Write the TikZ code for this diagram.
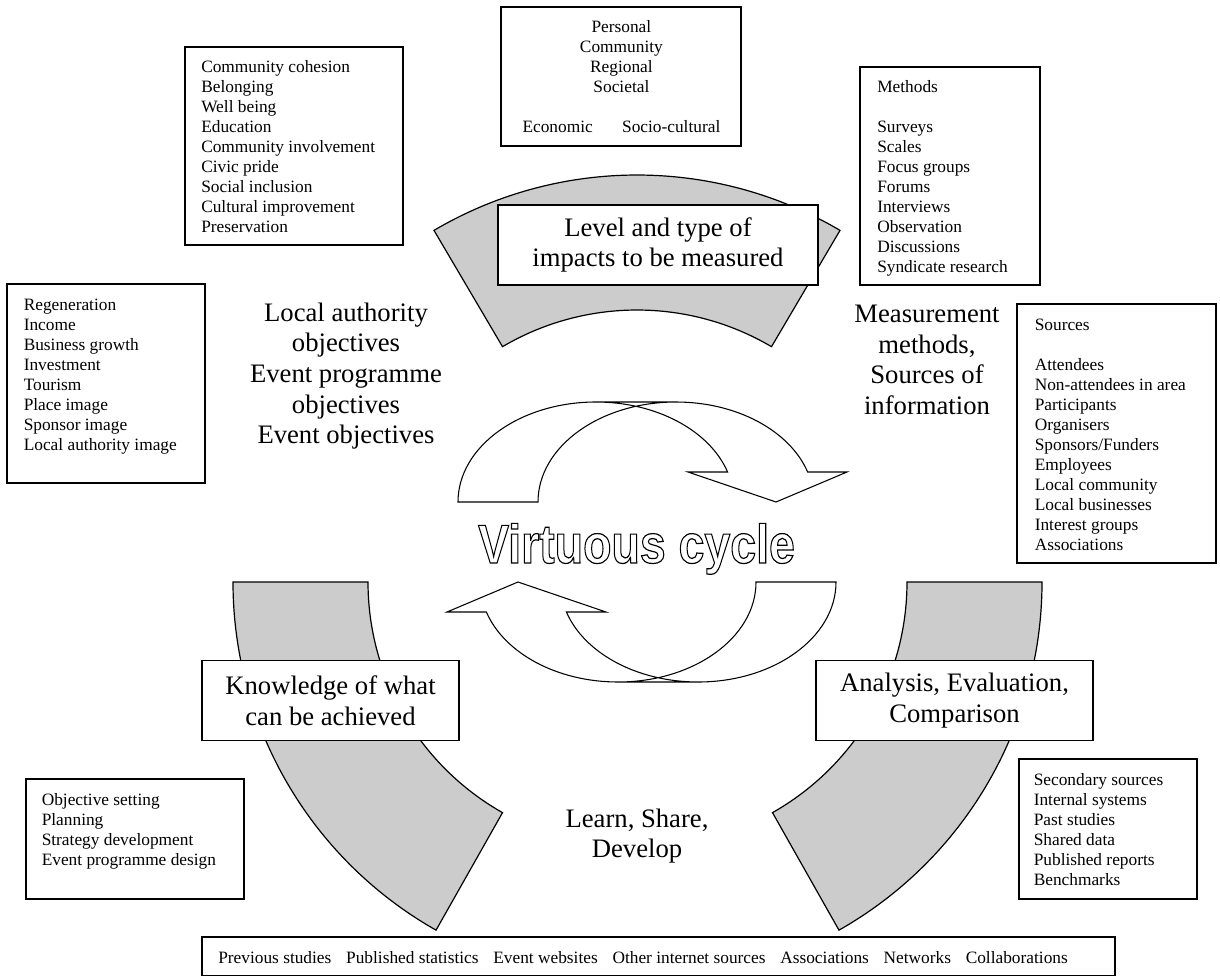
\documentclass[tikz,border=0pt]{standalone}
\usepackage{fontspec}
\setmainfont{Liberation Serif}
\newfontfamily\cyclefont{Liberation Sans}
\usepackage{graphicx}
\definecolor{arcgray}{gray}{0.8}
% stroked (hollow) letters
\newcommand\hollow[1]{\special{pdf:literal 1 Tr 0.9 w}#1\special{pdf:literal 0 Tr}}
\tikzset{
	listbox/.style={draw, line width=1pt},
	listtext/.style={anchor=north west, inner sep=0pt, align=left, font=\fontsize{13pt}{15pt}\selectfont},
	bigtext/.style={align=center, inner sep=0pt, font=\fontsize{20pt}{23pt}\selectfont},
	stagebox/.style={draw, fill=white, line width=1pt, align=center, minimum height=60pt, font=\fontsize{20pt}{23pt}\selectfont},
	stagearc/.style={fill=arcgray, draw=black, line width=0.9pt},
	cycle arrow/.pic={
		\draw[line width=0.8pt] (-109,-40) -- (-189,-40)
			arc[start angle=180, end angle=270, x radius=138, y radius=100] -- (29,-140)
			arc[start angle=270, end angle=342.54, x radius=138, y radius=100]
			-- (200,-70) -- (129,-40) -- (41,-70) -- (80.6,-70)
			arc[start angle=342.54, end angle=270, x radius=138, y radius=100] -- (29,-140)
			arc[start angle=270, end angle=180, x radius=138, y radius=100] -- cycle;
	}
}
\begin{document}
\begin{tikzpicture}[x=0.75pt, y=-0.75pt]
	\useasboundingbox (0,0) rectangle (1220,977);
	% the three stages
	\filldraw[stagearc] (637,575) ++(239.5:400) arc[start angle=239.5, end angle=300.5, radius=400] -- ++(300.5:-135) arc[start angle=300.5, end angle=239.5, radius=265] -- cycle;
	\filldraw[stagearc] (633,582) ++(180:400) arc[start angle=180, end angle=119.5, radius=400] -- ++(119.5:-135) arc[start angle=119.5, end angle=180, radius=265] -- cycle;
	\filldraw[stagearc] (642,582) ++(0:400) arc[start angle=0, end angle=60.5, radius=400] -- ++(60.5:-135) arc[start angle=60.5, end angle=0, radius=265] -- cycle;
	\node[stagebox, minimum width=240pt] (level) at (658,245) {Level and type of\\impacts to be measured};
	\node[stagebox, minimum width=192.75pt] (knowledge) at (330.5,700.5) {Knowledge of what\\can be achieved};
	\node[stagebox, minimum width=207.75pt] (analysis) at (954.5,700.5) {Analysis, Evaluation,\\Comparison};
	% cycle in the middle
	\pic (turnA) at (647,542) {cycle arrow};
	\pic[rotate=180] (turnB) at (647,542) {cycle arrow};
	\node[anchor=base, inner sep=0pt, font=\cyclefont\bfseries\fontsize{41pt}{41pt}\selectfont] (virtuous) at (636.5,563) {\scalebox{0.85}[1]{\hollow{Virtuous cycle}}};
	% free labels
	\node[bigtext] (objectives) at (346,376) {Local authority\\objectives\\Event programme\\objectives\\Event objectives};
	\node[bigtext] (measurement) at (927,360) {Measurement\\methods,\\Sources of\\information};
	\node[bigtext] (learn) at (637,836) {Learn, Share,\\Develop};
	% lists
	\draw[listbox] (185,47) rectangle (403,245);
	\node[listtext] (social) at (201,60.5) {Community cohesion\\Belonging\\Well being\\Education\\Community involvement\\Civic pride\\Social inclusion\\Cultural improvement\\Preservation};
	\draw[listbox] (7,284) rectangle (205,483);
	\node[listtext] (economic) at (23.5,298.3) {Regeneration\\Income\\Business growth\\Investment\\Tourism\\Place image\\Sponsor image\\Local authority image};
	\draw[listbox] (501,7) rectangle (741,146);
	\node[listtext, anchor=north, align=center] (levels) at (621.4,20.3) {Personal\\Community\\Regional\\Societal\\[15pt]Economic\hspace{22pt}Socio-cultural};
	\draw[listbox] (860,67) rectangle (1040,285);
	\node[listtext] (methods) at (877,80.5) {Methods\\[15pt]Surveys\\Scales\\Focus groups\\Forums\\Interviews\\Observation\\Discussions\\Syndicate research};
	\draw[listbox] (1017,304) rectangle (1216,563);
	\node[listtext] (sources) at (1034.5,318.8) {Sources\\[15pt]Attendees\\Non-attendees in area\\Participants\\Organisers\\Sponsors/Funders\\Employees\\Local community\\Local businesses\\Interest groups\\Associations};
	\draw[listbox] (26,779) rectangle (244,899);
	\node[listtext] (planning) at (41.5,793.5) {Objective setting\\Planning\\Strategy development\\Event programme design};
	\draw[listbox] (1019,759) rectangle (1197,899);
	\node[listtext] (secondary) at (1033.5,773.5) {Secondary sources\\Internal systems\\Past studies\\Shared data\\Published reports\\Benchmarks};
	\draw[listbox] (202,937) rectangle (1115,975.5);
	\node[listtext, anchor=base west] (bottom) at (218,963) {Previous studies\hspace{0.85em}Published statistics\hspace{0.85em}Event websites\hspace{0.85em}Other internet sources\hspace{0.85em}Associations\hspace{0.85em}Networks\hspace{0.85em}Collaborations};
\end{tikzpicture}
\end{document}
